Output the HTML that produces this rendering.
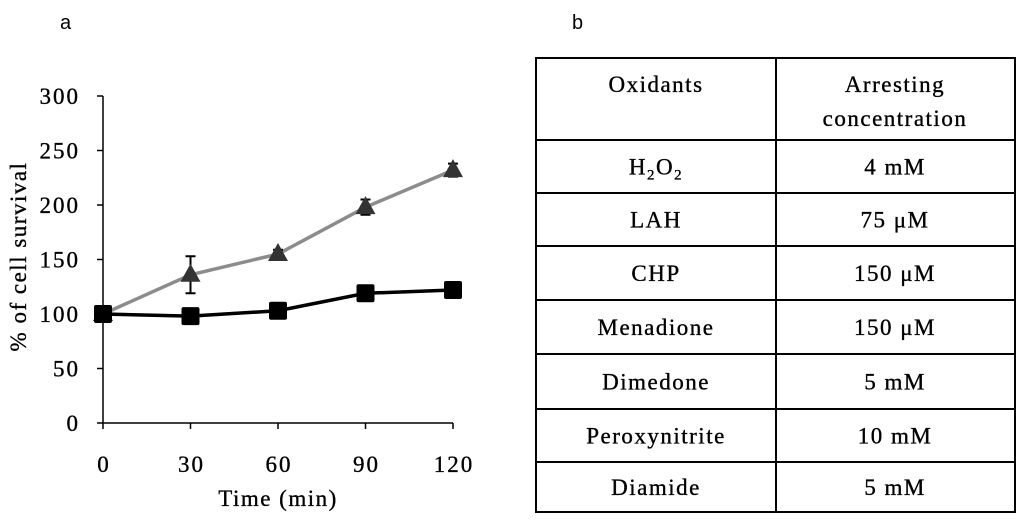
<!DOCTYPE html>
<html><head><meta charset="utf-8"><style>
body{margin:0;background:#fff;width:1024px;height:520px;overflow:hidden}
svg text{font-family:"Liberation Serif",serif;stroke:#000;stroke-width:0.35px}
</style></head><body>
<svg id="fig" width="1024" height="520" viewBox="0 0 1024 520">
<text x="60" y="29" font-size="20" style="font-family:'Liberation Sans',sans-serif;stroke:none">a</text>
<text x="572" y="29" font-size="20" style="font-family:'Liberation Sans',sans-serif;stroke:none">b</text>
<g id="chart"></g>
<g id="table"></g>
</svg>
<script>
const times=[0,30,60,90,120];
const triVals=[100,136,155,198,232];
const triErr=[0,17,4,7,6];
const sqVals=[100,98,103,119,122];
const yTicks=[0,50,100,150,200,250,300];
const NS="http://www.w3.org/2000/svg";
const g=document.getElementById('chart');
function X(t){return 103+t*(350/120);}
function Y(v){return 423-v*(327/300);}
function el(tag,attrs,parent){const e=document.createElementNS(NS,tag);for(const k in attrs)e.setAttribute(k,attrs[k]);(parent||g).appendChild(e);return e;}
let a=el('line',{x1:103,y1:Y(300),x2:103,y2:Y(0),stroke:'#000','stroke-width':1.5});


a=el('line',{x1:103,y1:Y(0),x2:X(120),y2:Y(0),stroke:'#000','stroke-width':1.5});


yTicks.forEach(v=>{
 el('line',{x1:97,y1:Y(v),x2:103,y2:Y(v),stroke:'#000','stroke-width':1.5});
 const t=el('text',{x:80,y:Y(v)+8,'font-size':23,'letter-spacing':2,'text-anchor':'end'});t.textContent=v;
 
 
});
times.forEach(v=>{
 el('line',{x1:X(v),y1:Y(0),x2:X(v),y2:Y(0)+6,stroke:'#000','stroke-width':1.5});
 const t=el('text',{x:X(v)+1,y:472,'font-size':23,'letter-spacing':2,'text-anchor':'middle'});t.textContent=v;
 
 
});
let t=el('text',{x:X(60),y:506,'font-size':23,'letter-spacing':1.5,'text-anchor':'middle'});t.textContent='Time (min)';


t=el('text',{x:0,y:0,'font-size':23,'letter-spacing':1.5,'text-anchor':'middle',transform:'translate(26,'+(Y(150)-3)+') rotate(-90)'});t.textContent='% of cell survival';


function path(vals){return vals.map((v,i)=>(i?'L':'M')+X(times[i])+','+Y(v)).join(' ');}
let p=el('path',{d:path(triVals),fill:'none',stroke:'#8c8c8c','stroke-width':3.5});


p=el('path',{d:path(sqVals),fill:'none',stroke:'#000','stroke-width':3.5});


triVals.forEach((v,i)=>{
 const x=X(times[i]),y=Y(v);
 if(triErr[i]>0){
  const y1=Y(v+triErr[i]),y2=Y(v-triErr[i]);
  const e=el('path',{d:`M${x},${y1} L${x},${y2} M${x-5},${y1} L${x+5},${y1} M${x-5},${y2} L${x+5},${y2}`,stroke:'#000','stroke-width':2,fill:'none'});
  
  
 }
 const m=el('polygon',{points:`${x},${y-11} ${x-10},${y+7} ${x+10},${y+7}`,fill:'#333'});
 
 
});
sqVals.forEach((v,i)=>{
 const x=X(times[i]),y=Y(v);
 const m=el('rect',{x:x-9,y:y-9,width:18,height:18,rx:2,fill:'#000'});
 
 
});
// table
const tb=document.getElementById('table');
const lines=[58,140,193,246,300,354,409,462,512];
const names=['H<tspan font-size="15" dy="5">2</tspan><tspan dy="-5">O</tspan><tspan font-size="15" dy="5">2</tspan>','LAH','CHP','Menadione','Dimedone','Peroxynitrite','Diamide'];
const concs=['4 mM','75 μM','150 μM','150 μM','5 mM','10 mM','5 mM'];
let r=el('rect',{x:536,y:58,width:479,height:454,fill:'none',stroke:'#000','stroke-width':2},tb);
el('line',{x1:776,y1:58,x2:776,y2:512,stroke:'#000','stroke-width':2},tb);
lines.slice(1,-1).forEach(y=>el('line',{x1:536,y1:y,x2:1015,y2:y,stroke:'#000','stroke-width':2},tb));
function tx(x,y,html,name){const e=el('text',{x:x,y:y,'font-size':23,'letter-spacing':1.5,'text-anchor':'middle'},tb);e.innerHTML=html;
 
 }
tx(656,92,'Oxidants','header-oxidants');
tx(895,92,'Arresting','header-arresting');
tx(895,126,'concentration','header-concentration');
names.forEach((n,i)=>{const c=(lines[i+1]+lines[i+2])/2+8;tx(656,c,n,'oxidant-name');tx(895,c,concs[i],'oxidant-concentration');});
</script>
</body></html>
